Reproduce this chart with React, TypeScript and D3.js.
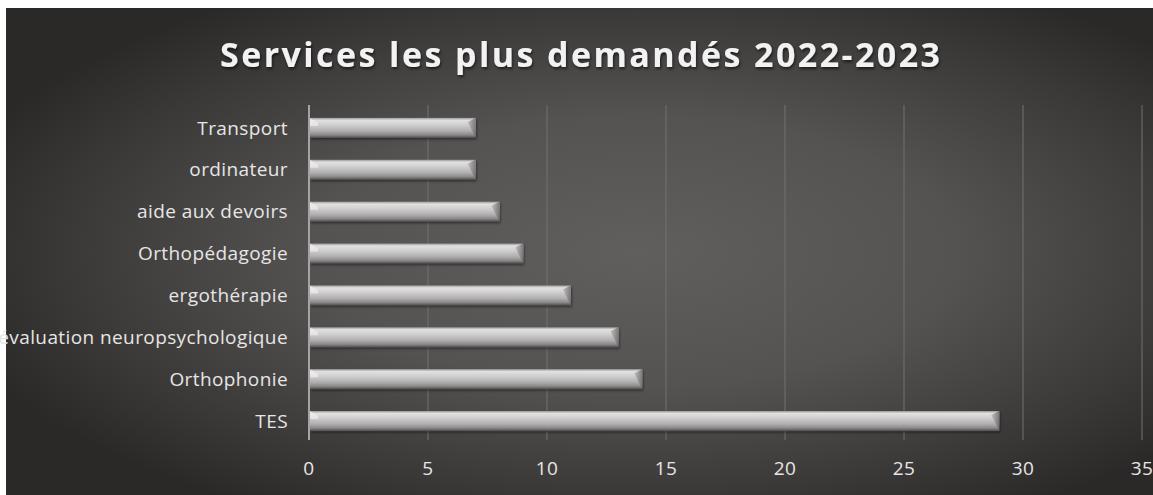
import React from "react";
import * as d3 from "d3";

const categories = [
  "Transport",
  "ordinateur",
  "aide aux devoirs",
  "Orthopédagogie",
  "ergothérapie",
  "évaluation neuropsychologique",
  "Orthophonie",
  "TES",
];
const values = [7, 7, 8, 9, 11, 13, 14, 29];
const xTicks = [0, 5, 10, 15, 20, 25, 30, 35];
const title = "Services les plus demandés 2022-2023";

const W = 1153;
const H = 495;
const plotLeft = 309;
const plotRight = 1142;
const plotTop = 107;
const plotBottom = 442;

export default function App() {
  const x = d3.scaleLinear().domain([0, 35]).range([plotLeft, plotRight]);
  const y = d3
    .scaleBand<string>()
    .domain(categories)
    .range([plotTop, plotBottom])
    .paddingInner(0.52)
    .paddingOuter(0.26);
  const bh = y.bandwidth();
  const font = "'Open Sans', 'Noto Sans', sans-serif";

  return (
    <svg
      width={W}
      height={H}
      style={{ position: "absolute", left: 0, top: 0, display: "block" }}
    >
      <defs>
        <radialGradient id="bg" cx="0.55" cy="0.5" r="0.62" gradientUnits="objectBoundingBox">
          <stop offset="0" stopColor="#615f5e" />
          <stop offset="0.45" stopColor="#555352" />
          <stop offset="0.8" stopColor="#3b3938" />
          <stop offset="1" stopColor="#2b2928" />
        </radialGradient>
        <linearGradient id="bar" x1="0" y1="0" x2="0" y2="1">
          <stop offset="0" stopColor="#9a9898" />
          <stop offset="0.12" stopColor="#e2e1e1" />
          <stop offset="0.35" stopColor="#d0cfcf" />
          <stop offset="0.65" stopColor="#b0aeae" />
          <stop offset="0.85" stopColor="#8a8888" />
          <stop offset="1" stopColor="#4e4c4c" />
        </linearGradient>
        <linearGradient id="cap" x1="0" y1="0" x2="1" y2="0">
          <stop offset="0" stopColor="#bdbcbc" />
          <stop offset="1" stopColor="#6a6868" />
        </linearGradient>
        <filter id="tshadow" x="-5%" y="-20%" width="110%" height="150%">
          <feDropShadow dx="1" dy="2" stdDeviation="1.5" floodColor="#000" floodOpacity="0.6" />
        </filter>
        <filter id="bshadow" x="-2%" y="-30%" width="104%" height="170%">
          <feDropShadow dx="1" dy="1.5" stdDeviation="1" floodColor="#000" floodOpacity="0.45" />
        </filter>
      </defs>
      <rect x={0} y={0} width={W} height={H} fill="#ffffff" />
      <rect x={6} y={8} width={W - 6} height={H - 8} fill="url(#bg)" />

      <text
        x={580}
        y={67}
        textAnchor="middle"
        fill="#f2f2f2"
        fontFamily={font}
        fontWeight={700}
        fontSize={34}
        textLength={720}
        lengthAdjust="spacing"
        filter="url(#tshadow)"
      >
        {title}
      </text>

      {xTicks.slice(1).map((t) => (
        <line
          key={"g" + t}
          x1={x(t)}
          x2={x(t)}
          y1={plotTop - 2}
          y2={plotBottom - 2}
          stroke="#727070"
          strokeWidth={1}
        />
      ))}

      {categories.map((c, i) => {
        const x0 = x(0) + 1;
        const x1 = x(values[i]);
        const y0 = y(c)!;
        const cw = Math.min(8, (x1 - x0) / 2);
        return (
          <g key={c} filter="url(#bshadow)">
            <rect x={x0} y={y0} width={x1 - x0} height={bh} fill="url(#bar)" />
            <polygon
              points={`${x1 - cw},${y0 + bh * 0.2} ${x1},${y0} ${x1},${y0 + bh} ${x1 - 2},${y0 + bh * 0.8}`}
              fill="url(#cap)"
              opacity={0.85}
            />
            <polygon
              points={`${x0},${y0} ${x0 + cw},${y0 + bh * 0.25} ${x0 + cw},${y0 + bh * 0.4} ${x0},${y0 + bh * 0.4}`}
              fill="#f4f4f4"
              opacity={0.6}
            />
          </g>
        );
      })}

      <line
        x1={plotLeft}
        x2={plotLeft}
        y1={plotTop - 2}
        y2={plotBottom - 2}
        stroke="#a5a3a3"
        strokeWidth={2}
      />

      {categories.map((c) => (
        <text
          key={"l" + c}
          x={288}
          y={y(c)! + bh / 2}
          dy="0.35em"
          textAnchor="end"
          fill="#e6e6e6"
          fontFamily={font}
          fontSize={19}
          letterSpacing={0.4}
        >
          {c}
        </text>
      ))}

      {xTicks.map((t) => (
        <text
          key={"t" + t}
          x={x(t)}
          y={468}
          dy="0.35em"
          textAnchor="middle"
          fill="#e6e6e6"
          fontFamily={font}
          fontSize={19}
          letterSpacing={0.4}
        >
          {t}
        </text>
      ))}
    </svg>
  );
}
